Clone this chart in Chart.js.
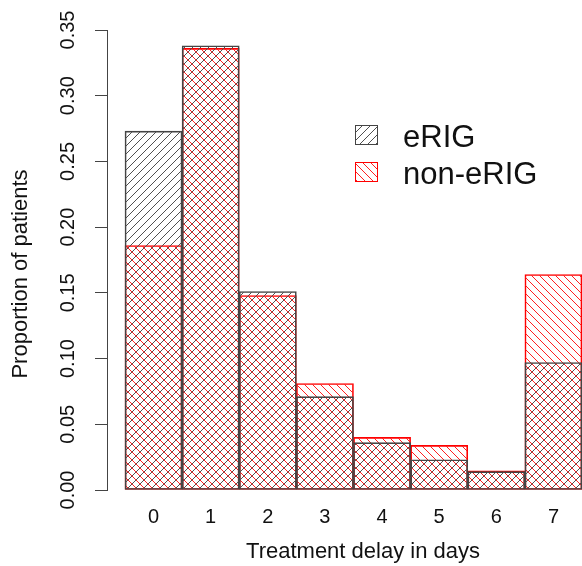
<!DOCTYPE html>
<html>
<head>
<meta charset="utf-8">
<script src="https://cdn.jsdelivr.net/npm/chart.js@4.4.1/dist/chart.umd.min.js"></script>
<style>
  html, body { margin: 0; padding: 0; background: #fff; }
  #wrap { width: 582px; height: 566px; }
</style>
</head>
<body>
<div id="wrap"><canvas id="chart" width="582" height="566"></canvas></div>
<script>
// dados
const delays = [0, 1, 2, 3, 4, 5, 6, 7];
const eRIG = [0.273, 0.338, 0.151, 0.071, 0.036, 0.023, 0.014, 0.097];
const nonERIG = [0.186, 0.336, 0.148, 0.081, 0.040, 0.034, 0.0145, 0.164];
const yTicks = [0, 0.05, 0.10, 0.15, 0.20, 0.25, 0.30, 0.35];
const seriesNames = ['eRIG', 'non-eRIG'];
const xTitle = 'Treatment delay in days';
const yTitle = 'Proportion of patients';

const FONT = '"Liberation Sans", Arial, sans-serif';
const INK = '#444444';
const RED = '#ff0000';

// hachura fina de 1px: '/' ou '\'
function makeHatch(color, dir) {
    const s = 8;
    const c = document.createElement('canvas');
    c.width = s; c.height = s;
    const g = c.getContext('2d');
    g.fillStyle = color;
    for (let i = 0; i < s; i++) {
        const y = dir === '/' ? s - 1 - i : i;
        g.fillRect(i, y, 1, 1);
    }
    return g.createPattern(c, 'repeat');
}

const hatchBlack = makeHatch('#505050', '/');
const hatchRed = makeHatch('#ff2020', '\\');

// títulos e legenda desenhados à mão (estilo R)
const extrasPlugin = {
    id: 'extras',
    afterDraw(chart) {
        const ctx = chart.ctx;
        ctx.save();
        ctx.fillStyle = '#111';
        ctx.font = '22px ' + FONT;
        ctx.textAlign = 'center';
        ctx.textBaseline = 'alphabetic';
        ctx.fillText(xTitle, 363, 558);

        ctx.save();
        ctx.translate(27, 274);
        ctx.rotate(-Math.PI / 2);
        ctx.fillText(yTitle, 0, 0);
        ctx.restore();

        // legenda
        const boxes = [
            { y: 125, fill: hatchBlack, stroke: INK },
            { y: 162, fill: hatchRed, stroke: RED }
        ];
        ctx.font = '31px ' + FONT;
        ctx.textAlign = 'left';
        boxes.forEach((b, i) => {
            ctx.fillStyle = b.fill;
            ctx.fillRect(355, b.y, 22, 19);
            ctx.strokeStyle = b.stroke;
            ctx.lineWidth = 1;
            ctx.strokeRect(355.5, b.y + 0.5, 22, 19);
            ctx.fillStyle = '#111';
            ctx.fillText(seriesNames[i], 403, b.y + 21.5);
        });
        ctx.restore();
    }
};

Chart.defaults.font.family = FONT;
Chart.defaults.color = '#111';

new Chart(document.getElementById('chart'), {
    type: 'bar',
    data: {
        labels: delays,
        datasets: [
            {
                label: seriesNames[0],
                data: eRIG,
                backgroundColor: hatchBlack,
                borderColor: INK,
                borderWidth: 1,
                borderSkipped: false,
                grouped: false,
                barPercentage: 1,
                categoryPercentage: 1
            },
            {
                label: seriesNames[1],
                data: nonERIG,
                backgroundColor: hatchRed,
                borderColor: RED,
                borderWidth: 1,
                borderSkipped: false,
                grouped: false,
                barPercentage: 1,
                categoryPercentage: 1
            }
        ]
    },
    options: {
        responsive: false,
        animation: false,
        layout: { padding: { left: 56, top: 30, right: 0, bottom: 22 } },
        plugins: { legend: { display: false }, tooltip: { enabled: false } },
        scales: {
            x: {
                type: 'linear',
                offset: false,
                min: -0.815,
                max: 7.5,
                grid: { display: false, drawTicks: false },
                border: { display: false },
                ticks: {
                    stepSize: 1,
                    includeBounds: false,
                    padding: 15,
                    font: { size: 20 },
                    callback: v => delays.includes(v) ? String(v) : ''
                }
            },
            y: {
                min: 0,
                max: 0.35,
                grid: { drawOnChartArea: false, tickLength: 12, color: INK },
                border: { display: true, color: INK },
                afterBuildTicks: scale => { scale.ticks = yTicks.map(v => ({ value: v })); },
                ticks: {
                    padding: 7.5,
                    crossAlign: 'center',
                    minRotation: 90,
                    maxRotation: 90,
                    font: { size: 20 },
                    callback: v => v.toFixed(2)
                }
            }
        }
    },
    plugins: [extrasPlugin]
});
</script>
</body>
</html>
